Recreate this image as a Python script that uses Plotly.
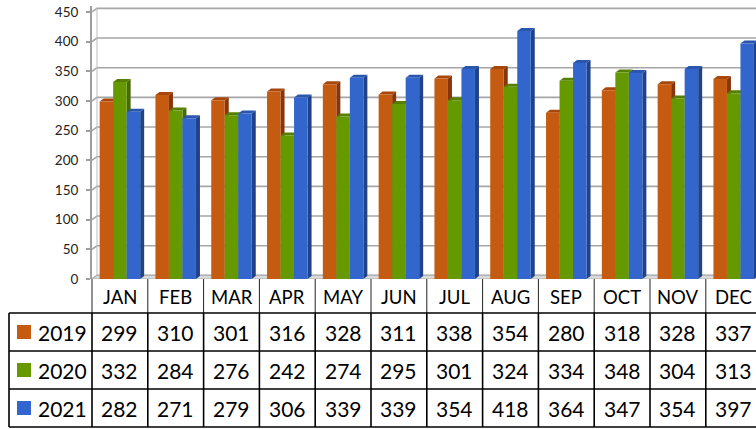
import plotly.graph_objects as go

months = ["JAN", "FEB", "MAR", "APR", "MAY", "JUN", "JUL", "AUG", "SEP", "OCT", "NOV", "DEC"]
years = ["2019", "2020", "2021"]
v2019 = [299, 310, 301, 316, 328, 311, 338, 354, 280, 318, 328, 337]
v2020 = [332, 284, 276, 242, 274, 295, 301, 324, 334, 348, 304, 313]
v2021 = [282, 271, 279, 306, 339, 339, 354, 418, 364, 347, 354, 397]
series = [v2019, v2020, v2021]
y_ticks = [0, 50, 100, 150, 200, 250, 300, 350, 400, 450]

front = ["#C55A11", "#669900", "#3366CC"]
top_c = ["#A8470B", "#557F00", "#2A56AE"]
side_c = ["#86360A", "#466B00", "#1F4288"]

W, H = 756, 429
ML, MT, MB = 92, 6, 150
plot_w = W - ML
plot_h = H - MT - MB
cat_px = 55.8
xmin = -0.5
xmax = xmin + plot_w / cat_px
ymax = 460

bargap = 0.274
bw = (1 - bargap) / 3
dx = 4 / cat_px          # bar depth (x, data units)
dy = 3 / (plot_h / ymax)  # bar depth (y, data units)
gdx = 5 / cat_px         # wall offset
gdy = 3.6 / (plot_h / ymax)

fig = go.Figure()
xs = list(range(len(months)))
for k, (yr, vals) in enumerate(zip(years, series)):
    fig.add_trace(go.Bar(x=xs, y=vals, name=yr, marker=dict(color=front[k], line=dict(width=0)),
                         showlegend=False, hoverinfo="skip"))

shapes = []
# gridlines on back wall
for t in y_ticks:
    shapes.append(dict(type="path", xref="x", yref="y", layer="below",
                       path=f"M {xmin},{t} L {xmin+gdx},{t+gdy} L {xmax},{t+gdy}",
                       line=dict(color="#A6A6A6", width=1.6)))
# back wall left edge
shapes.append(dict(type="line", xref="x", yref="y", layer="below",
                   x0=xmin + gdx, x1=xmin + gdx, y0=gdy, y1=450 + gdy,
                   line=dict(color="#BDBDBD", width=1)))
# floor
shapes.append(dict(type="path", xref="x", yref="y", layer="below",
                   path=f"M {xmin},0 L {xmax},0 L {xmax},{gdy} L {xmin+gdx},{gdy} Z",
                   fillcolor="#D9D9D9", line=dict(color="#B0B0B0", width=1)))

# 3D faces of bars
for k, vals in enumerate(series):
    off = (k - 1) * bw
    for i, v in enumerate(vals):
        l = i + off - bw / 2
        r = i + off + bw / 2
        shapes.append(dict(type="path", xref="x", yref="y", layer="between",
                           path=f"M {r},0 L {r+dx},{dy} L {r+dx},{v+dy} L {r},{v} Z",
                           fillcolor=side_c[k], line=dict(width=0)))
        shapes.append(dict(type="path", xref="x", yref="y", layer="between",
                           path=f"M {l},{v} L {l+dx},{v+dy} L {r+dx},{v+dy} L {r},{v} Z",
                           fillcolor=top_c[k], line=dict(width=0)))

# table
def px_to_paper_x(px):
    return (px - ML) / plot_w

def py_to_paper_y(py):
    return (H - MB - py) / plot_h

def xdata_to_paper(xd):
    return (xd - xmin) / (xmax - xmin)

row_px = [279, 313, 351, 389, 427]
row_y = [py_to_paper_y(p) for p in row_px]
left_x = px_to_paper_x(9)

# header vertical lines
for i in range(len(months) + 1):
    xp = xdata_to_paper(i - 0.5)
    shapes.append(dict(type="line", xref="paper", yref="paper", x0=xp, x1=xp,
                       y0=row_y[0], y1=row_y[1], line=dict(color="#222222", width=1)))
    shapes.append(dict(type="line", xref="paper", yref="paper", x0=xp, x1=xp,
                       y0=row_y[1], y1=row_y[4], line=dict(color="#000000", width=1.6)))
# legend column left border
shapes.append(dict(type="line", xref="paper", yref="paper", x0=left_x, x1=left_x,
                   y0=row_y[1], y1=row_y[4], line=dict(color="#000000", width=1.6)))
# horizontal lines
for j in range(1, 5):
    shapes.append(dict(type="line", xref="paper", yref="paper", x0=left_x, x1=1.05,
                       y0=row_y[j], y1=row_y[j], line=dict(color="#000000", width=1.6)))

annotations = []
font_name = "Lato, Carlito, Calibri, sans-serif"
hdr_y = py_to_paper_y(297)
for i, m in enumerate(months):
    annotations.append(dict(x=i, y=hdr_y, xref="x", yref="paper", text=m, showarrow=False,
                            font=dict(family=font_name, size=18.5, color="#000000"),
                            xanchor="center", yanchor="middle"))
row_centers = [332, 370, 408]
for k, (yr, vals) in enumerate(zip(years, series)):
    yc = py_to_paper_y(row_centers[k])
    for i, v in enumerate(vals):
        annotations.append(dict(x=i, y=yc, xref="x", yref="paper", text=str(v), showarrow=False,
                                font=dict(family=font_name, size=21, color="#000000"),
                                xanchor="center", yanchor="middle"))
    # legend marker
    shapes.append(dict(type="rect", xref="paper", yref="paper",
                       x0=px_to_paper_x(17), x1=px_to_paper_x(31),
                       y0=py_to_paper_y(row_centers[k] + 7), y1=py_to_paper_y(row_centers[k] - 7),
                       fillcolor=front[k], line=dict(width=0)))
    annotations.append(dict(x=px_to_paper_x(36), y=yc, xref="paper", yref="paper", text=yr,
                            showarrow=False, font=dict(family=font_name, size=21, color="#000000"),
                            xanchor="left", yanchor="middle"))

fig.update_layout(
    width=W, height=H,
    margin=dict(l=ML, r=0, t=MT, b=MB),
    paper_bgcolor="white", plot_bgcolor="white",
    barmode="group", bargap=bargap, bargroupgap=0,
    shapes=shapes, annotations=annotations,
    xaxis=dict(range=[xmin, xmax], showticklabels=False, showgrid=False, zeroline=False,
               showline=False, ticks=""),
    yaxis=dict(range=[0, ymax], tickvals=y_ticks, ticktext=[str(t) for t in y_ticks],
               showgrid=False, zeroline=False, showline=True, linecolor="#9E9E9E", linewidth=2,
               ticks="outside", ticklen=4, tickcolor="#9E9E9E", tickwidth=1.5,
               ticklabelstandoff=5,
               tickfont=dict(family=font_name, size=13.5, color="#222222")),
)

fig.write_html("out.html", config={"displayModeBar": False},
               post_script="document.body.style.margin='0';document.body.style.overflow='hidden';")
